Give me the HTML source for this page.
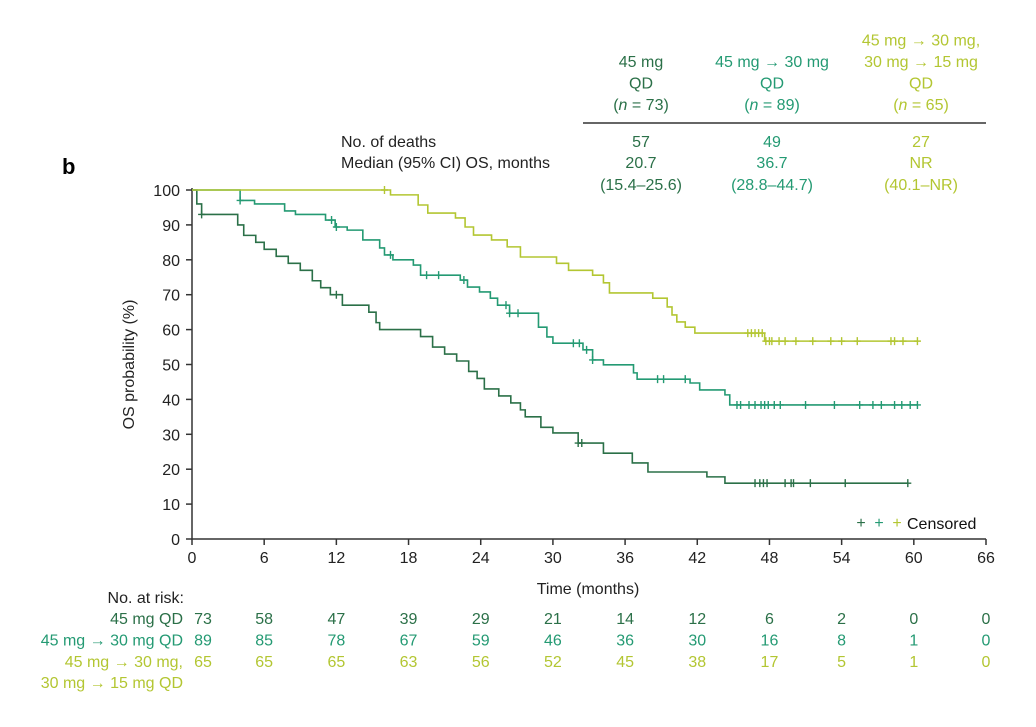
<!DOCTYPE html>
<html><head><meta charset="utf-8"><style>
body{margin:0;background:#fff;width:1036px;height:722px;overflow:hidden;font-family:"Liberation Sans",sans-serif;}
svg text{font-family:"Liberation Sans","DejaVu Sans",sans-serif;}
</style></head><body>
<svg id="c" width="1036" height="722" xmlns="http://www.w3.org/2000/svg"></svg>
<script>
const xTicks=[0,6,12,18,24,30,36,42,48,54,60,66];
const yTicks=[0,10,20,30,40,50,60,70,80,90,100];
const colors=["#2b7048","#249a73","#b3c632"];
const darkT=[0,0.4,0.8,3.8,4.3,5.3,6,7,8,9,10,10.7,11.5,12.5,14.7,15.3,15.6,19,20,21,22,23,23.7,24.3,25.5,26.5,27.3,27.7,29,30,32.1,34.2,36.6,37.9,42.8,44.3,59.5];
const darkS=[100,96,93,90,87,85,83,81,79,77,74,72,70,67,65,62,60,58,55,53,51,48,46,43,41,39,37,35,32,30.4,27.5,24.6,21.8,19.2,17.8,16,16];
const midT=[0,4,5.2,7.7,8.6,11.1,11.9,12.9,14.2,15.6,16,16.7,18.4,19,22.3,22.9,23.9,24.8,25.4,26.4,28.8,29.5,30,32.5,33.3,34.2,36.7,37,41.4,42.2,44.3,44.7,60.3];
const midS=[100,97,96,94,93,91.4,89.4,88.5,85.7,83.4,81.4,80,78.5,75.6,74.2,72.2,70.8,69,67,64.7,60.7,57.9,56.1,54.2,51.3,49.9,47.6,45.8,44.7,42.7,41.3,38.4,38.4];
const lightT=[0,16.5,18.8,19.6,21.9,22.7,23.4,24.9,26.2,27.3,30.3,31.3,33.3,34.2,34.7,38.3,39.5,39.9,40.3,41,41.8,47.6,60.3];
const lightS=[100,98.6,95.7,93.4,92,89.4,87.1,85.7,83.7,80.8,79,77,75.6,73.4,70.5,69,66.5,64.2,62.2,60.7,59,56.7,56.7];
const darkCens=[0.8,12,32.1,32.4,46.8,47.2,47.5,47.8,49.3,49.8,50,51.4,54.3,59.5];
const midCens=[4,11.6,12,16.5,19.5,20.5,22.6,26.1,26.4,27.1,31.7,32.2,32.8,33.3,38.7,39.2,41,45.3,45.6,46.3,46.8,47.3,47.6,47.9,48.4,48.9,51,53.4,55.5,56.6,57.3,58.4,59,59.7,60.3];
const lightCens=[16,46.2,46.5,46.8,47.1,47.4,47.7,48,48.2,48.8,49.3,50.2,51.6,53.1,54,55.3,58.1,58.4,59.1,60.3];
const risk=[[73,58,47,39,29,21,14,12,6,2,0,0],[89,85,78,67,59,46,36,30,16,8,1,0],[65,65,65,63,56,52,45,38,17,5,1,0]];
const deaths=["57","49","27"];
const medians=["20.7","36.7","NR"];
const cis=["(15.4\u201325.6)","(28.8\u201344.7)","(40.1\u2013NR)"];
const ns=["73","89","65"];

const X0=192,X1=986,Y0=539,Y1=190;
const sx=t=>X0+t*(X1-X0)/66;
const sy=s=>Y0-s*(Y0-Y1)/100;
const svg=document.getElementById('c');
const NS="http://www.w3.org/2000/svg";
function el(tag,attrs,parent){const e=document.createElementNS(NS,tag);for(const k in attrs)e.setAttribute(k,attrs[k]);(parent||svg).appendChild(e);return e;}
function txt(x,y,s,attrs){const e=el('text',Object.assign({x:x,y:y,'font-size':16,fill:'#222'},attrs||{}));e.textContent=s;return e;}
function arrowTxt(x,y,s,attrs){const e=el('text',Object.assign({x:x,y:y,'font-size':16,fill:'#222'},attrs||{}));
 s.split('\u2192').forEach((part,i)=>{if(i>0){const ts=el('tspan',{'font-weight':'bold'},e);ts.textContent='\u2192';}
  const tp=el('tspan',{},e);tp.textContent=part;});return e;}

let a=el('path',{d:`M${X0},${Y1-2}V${Y0}H${X1}`,stroke:'#333','stroke-width':1.5,fill:'none'});


xTicks.forEach(t=>{el('line',{x1:sx(t),x2:sx(t),y1:Y0,y2:Y0+6,stroke:'#333','stroke-width':1.5});
 let e=txt(sx(t),Y0+24,String(t),{'text-anchor':'middle'});
 
 });
yTicks.forEach(v=>{el('line',{x1:X0-6,x2:X0,y1:sy(v),y2:sy(v),stroke:'#333','stroke-width':1.5});
 let e=txt(X0-12,sy(v)+6,String(v),{'text-anchor':'end'});
 
 });
let xt=txt(588,594,"Time (months)",{'text-anchor':'middle'});


let yt=txt(0,0,"OS probability (%)",{'text-anchor':'middle',transform:`translate(134,${(Y0+Y1)/2}) rotate(-90)`});


let pl=txt(62,174,"b",{'font-size':22,'font-weight':'bold',fill:'#000'});



function surv(T,S,t){let s=S[0];for(let i=0;i<T.length;i++){if(T[i]<=t)s=S[i];}return s;}
const series=[[darkT,darkS,darkCens],[midT,midS,midCens],[lightT,lightS,lightCens]];
series.forEach(([T,S,C],g)=>{
 let d=`M${sx(T[0])},${sy(S[0])}`;
 for(let i=1;i<T.length;i++){d+=`H${sx(T[i])}V${sy(S[i])}`;}
 let p=el('path',{d:d,stroke:colors[g],'stroke-width':1.6,fill:'none'});
 
 
 C.forEach(t=>{const x=sx(t),y=sy(surv(T,S,t));
  let m=el('path',{d:`M${x-3.5},${y}H${x+3.5}M${x},${y-4}V${y+4}`,stroke:colors[g],'stroke-width':1.4});
  
  });
 risk[g].forEach((v,i)=>{let x=i===0?sx(xTicks[i])+11:sx(xTicks[i]);
  let e=txt(x,624+g*21.5,String(v),{'text-anchor':'middle',fill:colors[g]});
  
  });
});
[0,1,2].forEach(g=>{let e=txt(861+g*18,528,"+",{'text-anchor':'middle',fill:colors[g]});
 
 });
let lg=txt(907,529,"Censored",{fill:'#111'});



let rl=txt(184,603,"No. at risk:",{'text-anchor':'end'});


[["45 mg QD",624],["45 mg \u2192 30 mg QD",645.5],["45 mg \u2192 30 mg,",667],["30 mg \u2192 15 mg QD",688]].forEach(([s,y],i)=>{
 let e=arrowTxt(183,y,s,{'text-anchor':'end',fill:colors[Math.min(i,2)]});
 
 });

const cx=[641,772,921];
const heads=[["45 mg","QD"],["45 mg \u2192 30 mg","QD"],["45 mg \u2192 30 mg,","30 mg \u2192 15 mg","QD"]];
heads.forEach((lines,g)=>{
 const start=110-21.5*(lines.length+1);
 lines.forEach((s,i)=>{let e=arrowTxt(cx[g],start+21.5*(i+1),s,{'text-anchor':'middle',fill:colors[g]});
  
  });
 let n=el('text',{x:cx[g],y:110,'font-size':16,'text-anchor':'middle',fill:colors[g]});
 n.innerHTML=`(<tspan font-style="italic">n</tspan> = ${ns[g]})`;
 
 
 [[deaths[g],147],[medians[g],168],[cis[g],190]].forEach(([s,y])=>{let e=txt(cx[g],y,s,{'text-anchor':'middle',fill:colors[g]});
  
  });
});
el('line',{x1:583,x2:986,y1:123,y2:123,stroke:'#333','stroke-width':1.5});
let h1=txt(341,147,"No. of deaths");


let h2=txt(341,168,"Median (95% CI) OS, months");


</script>
</body></html>
